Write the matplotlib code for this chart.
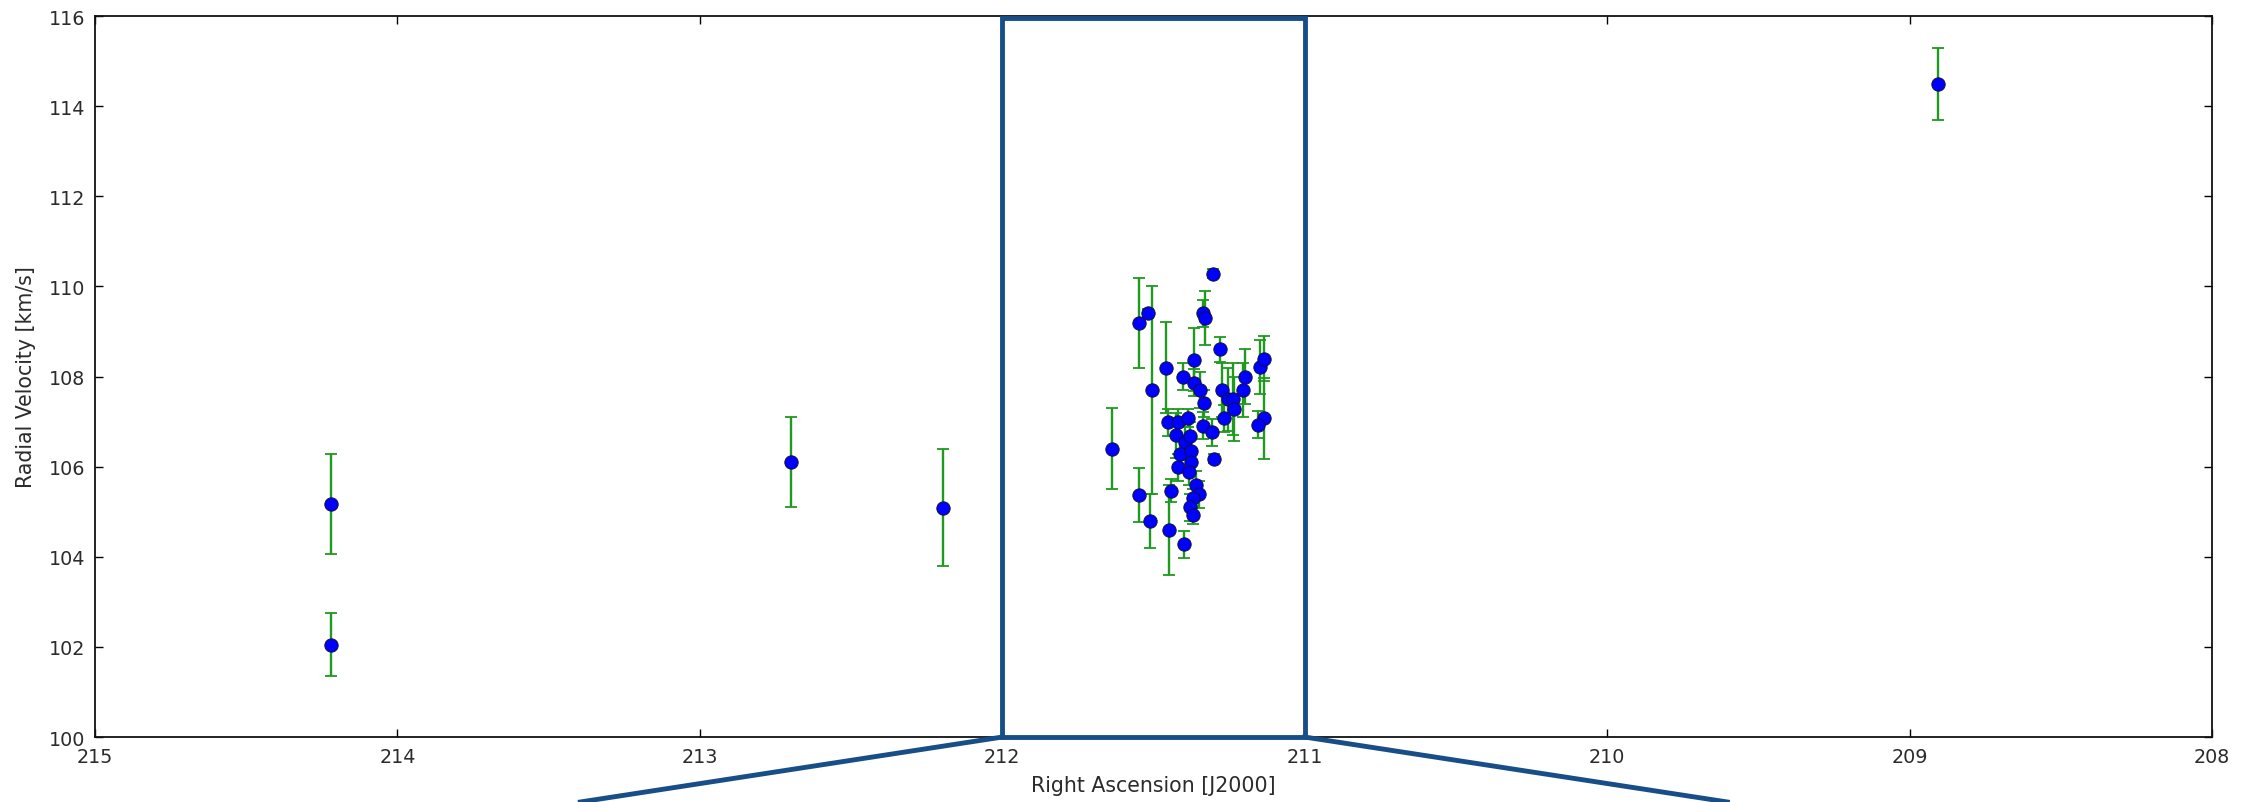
import matplotlib
matplotlib.use("Agg")
import matplotlib.pyplot as plt
from matplotlib.patches import Rectangle
from matplotlib.lines import Line2D

# Right ascension [deg], radial velocity [km/s] and 1-sigma uncertainty per star
ra = [214.22, 214.22, 212.70, 212.195, 208.905, 211.636,
      211.548, 211.517, 211.506, 211.459, 211.548, 211.511, 211.443, 211.449,
      211.398, 211.299, 211.360, 211.350, 211.371, 211.379, 211.371, 211.304,
      211.335, 211.331, 211.280, 211.366, 211.403, 211.366, 211.347, 211.333,
      211.272, 211.252, 211.236, 211.234, 211.197, 211.203, 211.267, 211.147,
      211.134, 211.133, 211.155, 211.451, 211.419, 211.386, 211.425, 211.395,
      211.379, 211.335, 211.305, 211.411, 211.375, 211.375, 211.420, 211.383]
rv = [105.17, 102.05, 106.11, 105.09, 114.50, 106.40,
      109.18, 109.40, 107.70, 108.20, 105.38, 104.80, 105.47, 104.59,
      104.28, 106.18, 105.60, 105.39, 105.30, 105.10, 104.93, 110.28,
      109.40, 109.29, 108.60, 108.37, 108.00, 107.86, 107.70, 107.41,
      107.70, 107.50, 107.50, 107.28, 108.00, 107.70, 107.07, 108.22,
      108.39, 107.07, 106.93, 106.98, 106.98, 107.07, 106.70, 106.55,
      106.69, 106.91, 106.76, 106.28, 106.35, 106.11, 105.99, 105.89]
rv_err = [1.10, 0.70, 1.00, 1.30, 0.80, 0.90,
          1.00, 0.10, 2.30, 1.00, 0.60, 0.60, 0.25, 1.00,
          0.30, 0.10, 0.30, 0.30, 0.20, 0.30, 0.20, 0.10,
          0.30, 0.60, 0.27, 0.70, 0.30, 0.30, 0.40, 0.30,
          0.60, 0.70, 0.80, 0.70, 0.60, 0.60, 0.30, 0.60,
          0.50, 0.90, 0.30, 0.30, 0.30, 0.20, 0.50, 0.40,
          0.30, 0.30, 0.30, 0.40, 0.30, 0.30, 0.30, 0.30]

# Zoomed region (RA range) highlighted on the main panel
zoom_ra = [212.0, 211.0]
zoom_rv = [100.0, 115.95]

x_ticks = [215, 214, 213, 212, 211, 210, 209, 208]
y_ticks = [100, 102, 104, 106, 108, 110, 112, 114, 116]

box_color = "#174e87"

plt.rcParams["font.family"] = ["DejaVu Sans"]
fig = plt.figure(figsize=(22.58, 8.03), dpi=100, facecolor="white")
ax = fig.add_axes([0.0421, 0.0809, 0.9375, 0.8979])

ax.errorbar(ra, rv, yerr=rv_err, fmt="none", ecolor="#1f9a1f",
            elinewidth=1.7, capsize=4.6, capthick=1.3, zorder=2)
ax.plot(ra, rv, "o", color="#0000ff", markersize=9.6,
        markeredgecolor="#101040", markeredgewidth=0.7, zorder=3)

ax.set_xlim(215, 208)
ax.set_ylim(100, 116)
ax.set_xticks(x_ticks)
ax.set_yticks(y_ticks)
ax.tick_params(direction="in", length=6, width=1, top=True, right=True,
               labelsize=13.8, labelcolor="#2b2b2b", pad=7)
for s in ax.spines.values():
    s.set_linewidth(1.3)
    s.set_color("#111111")

ax.set_xlabel("Right Ascension [J2000]", fontsize=14.8, color="#2b2b2b", labelpad=7)
ax.set_ylabel("Radial Velocity [km/s]", fontsize=14.8, color="#2b2b2b", labelpad=9)

# Highlight box around the cluster
ax.add_patch(Rectangle((zoom_ra[1], zoom_rv[0]), zoom_ra[0] - zoom_ra[1],
                       zoom_rv[1] - zoom_rv[0], fill=False, ec=box_color,
                       lw=3.5, zorder=6, clip_on=False))

# Connector lines leading from the box down to the detail panel
to_fig = ax.transData + fig.transFigure.inverted()
left_corner = to_fig.transform((zoom_ra[0], zoom_rv[0]))
right_corner = to_fig.transform((zoom_ra[1], zoom_rv[0]))
for corner, end_x in ((left_corner, 0.257), (right_corner, 0.765)):
    fig.add_artist(Line2D([corner[0], end_x], [corner[1], 0.0],
                          transform=fig.transFigure, color=box_color,
                          lw=3.5, clip_on=False, zorder=6))

fig.savefig("out.png", dpi=100, facecolor="white")
